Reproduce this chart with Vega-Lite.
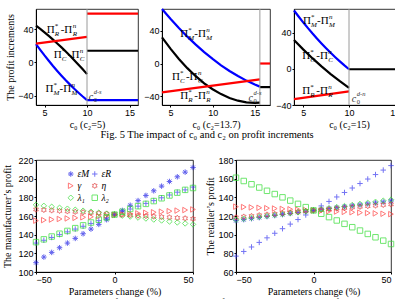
{
"$schema": "https://vega.github.io/schema/vega-lite/v6.json",
"padding": {"left": 2, "top": 4, "right": 0, "bottom": 0},
"spacing": 14,
"resolve": {"scale": {"color": "independent", "shape": "independent"}, "legend": {"color": "independent", "shape": "independent"}},
"config": {
 "font": "Liberation Serif",
 "view": {"stroke": "#000", "strokeWidth": 0.8},
 "axis": {"grid": false, "domainColor": "#000", "tickColor": "#000", "tickSize": 2, "labelFont": "Liberation Sans", "labelFontSize": 9, "labelColor": "#000", "titleFont": "Liberation Serif", "titleFontSize": 10, "titleFontWeight": "normal", "titleColor": "#000", "labelPadding": 1, "titlePadding": 2},
 "title": {"font": "Liberation Serif", "fontSize": 10.5, "fontWeight": "normal", "color": "#000"},
 "text": {"font": "Liberation Serif"}
},
"datasets": {
 "curves": [
  {"p":1,"s":"M","g":"a","x":4,"y":22},{"p":1,"s":"M","g":"a","x":4.5,"y":15.1},{"p":1,"s":"M","g":"a","x":5,"y":8.4},{"p":1,"s":"M","g":"a","x":5.5,"y":2},{"p":1,"s":"M","g":"a","x":6,"y":-4.3},{"p":1,"s":"M","g":"a","x":6.5,"y":-10.2},{"p":1,"s":"M","g":"a","x":7,"y":-15.9},{"p":1,"s":"M","g":"a","x":7.5,"y":-21.4},{"p":1,"s":"M","g":"a","x":8,"y":-26.6},{"p":1,"s":"M","g":"a","x":8.5,"y":-31.6},{"p":1,"s":"M","g":"a","x":9,"y":-36.3},{"p":1,"s":"M","g":"a","x":9.5,"y":-40.8},{"p":1,"s":"M","g":"a","x":10,"y":-45.1},
  {"p":1,"s":"M","g":"b","x":10,"y":-45.1},{"p":1,"s":"M","g":"b","x":16,"y":-45.1},
  {"p":1,"s":"C","g":"a","x":4,"y":44},{"p":1,"s":"C","g":"a","x":4.5,"y":40.1},{"p":1,"s":"C","g":"a","x":5,"y":36},{"p":1,"s":"C","g":"a","x":5.5,"y":31.7},{"p":1,"s":"C","g":"a","x":6,"y":27.3},{"p":1,"s":"C","g":"a","x":6.5,"y":22.7},{"p":1,"s":"C","g":"a","x":7,"y":18},{"p":1,"s":"C","g":"a","x":7.5,"y":13.1},{"p":1,"s":"C","g":"a","x":8,"y":8},{"p":1,"s":"C","g":"a","x":8.5,"y":2.7},{"p":1,"s":"C","g":"a","x":9,"y":-2.7},{"p":1,"s":"C","g":"a","x":9.5,"y":-8.3},{"p":1,"s":"C","g":"a","x":10,"y":-14},
  {"p":1,"s":"C","g":"b","x":10,"y":14},{"p":1,"s":"C","g":"b","x":16,"y":14},
  {"p":1,"s":"R","g":"a","x":4,"y":22.5},{"p":1,"s":"R","g":"a","x":10,"y":30.5},
  {"p":1,"s":"R","g":"b","x":10,"y":58.5},{"p":1,"s":"R","g":"b","x":16,"y":58.5},
  {"p":2,"s":"M","g":"a","x":4,"y":67},{"p":2,"s":"M","g":"a","x":5,"y":55},{"p":2,"s":"M","g":"a","x":6,"y":43.6},{"p":2,"s":"M","g":"a","x":7,"y":33},{"p":2,"s":"M","g":"a","x":8,"y":23.2},{"p":2,"s":"M","g":"a","x":9,"y":14},{"p":2,"s":"M","g":"a","x":10,"y":5.6},{"p":2,"s":"M","g":"a","x":11,"y":-2.2},{"p":2,"s":"M","g":"a","x":12,"y":-9.2},{"p":2,"s":"M","g":"a","x":13,"y":-15.4},{"p":2,"s":"M","g":"a","x":14,"y":-21},{"p":2,"s":"M","g":"a","x":15,"y":-25.8},{"p":2,"s":"M","g":"a","x":15.6,"y":-28.4},
  {"p":2,"s":"C","g":"a","x":4,"y":32.2},{"p":2,"s":"C","g":"a","x":5,"y":18.3},{"p":2,"s":"C","g":"a","x":6,"y":5.6},{"p":2,"s":"C","g":"a","x":7,"y":-5.7},{"p":2,"s":"C","g":"a","x":8,"y":-15.6},{"p":2,"s":"C","g":"a","x":9,"y":-24.3},{"p":2,"s":"C","g":"a","x":10,"y":-31.6},{"p":2,"s":"C","g":"a","x":11,"y":-37.6},{"p":2,"s":"C","g":"a","x":12,"y":-42.3},{"p":2,"s":"C","g":"a","x":13,"y":-45.7},{"p":2,"s":"C","g":"a","x":14,"y":-47.7},{"p":2,"s":"C","g":"a","x":15,"y":-48.4},{"p":2,"s":"C","g":"a","x":15.6,"y":-48.2},
  {"p":2,"s":"C","g":"b","x":15.6,"y":-29},{"p":2,"s":"C","g":"b","x":16.8,"y":-29},
  {"p":2,"s":"R","g":"a","x":4,"y":-35.5},{"p":2,"s":"R","g":"a","x":15.6,"y":-19.5},
  {"p":2,"s":"R","g":"b","x":15.6,"y":0},{"p":2,"s":"R","g":"b","x":16.8,"y":0},
  {"p":3,"s":"M","g":"a","x":4,"y":64.3},{"p":3,"s":"M","g":"a","x":4.5,"y":57.7},{"p":3,"s":"M","g":"a","x":5,"y":51.3},{"p":3,"s":"M","g":"a","x":5.5,"y":45.2},{"p":3,"s":"M","g":"a","x":6,"y":39.2},{"p":3,"s":"M","g":"a","x":6.5,"y":33.5},{"p":3,"s":"M","g":"a","x":7,"y":28},{"p":3,"s":"M","g":"a","x":7.5,"y":22.7},{"p":3,"s":"M","g":"a","x":8,"y":17.6},{"p":3,"s":"M","g":"a","x":8.5,"y":12.8},{"p":3,"s":"M","g":"a","x":9,"y":8.2},{"p":3,"s":"M","g":"a","x":9.5,"y":3.7},{"p":3,"s":"M","g":"a","x":10,"y":-0.5},
  {"p":3,"s":"C","g":"a","x":4,"y":31.7},{"p":3,"s":"C","g":"a","x":5,"y":21.4},{"p":3,"s":"C","g":"a","x":6,"y":11.7},{"p":3,"s":"C","g":"a","x":7,"y":2.7},{"p":3,"s":"C","g":"a","x":8,"y":-5.8},{"p":3,"s":"C","g":"a","x":9,"y":-13.7},{"p":3,"s":"C","g":"a","x":10,"y":-21},
  {"p":3,"s":"C","g":"b","x":10,"y":-0.5},{"p":3,"s":"C","g":"b","x":16,"y":-0.5},
  {"p":3,"s":"R","g":"a","x":4,"y":-33.5},{"p":3,"s":"R","g":"a","x":10,"y":-25}
 ],
 "vl": [{"p":1,"x":10},{"p":2,"x":15.6},{"p":3,"x":10}],
 "labs": [
  {"p":1,"x":5.25,"y":38.8,"s":"R"},{"p":1,"x":6.1,"y":8.9,"s":"C"},{"p":1,"x":5.13,"y":-32.2,"s":"M"},
  {"p":2,"x":6.17,"y":36.2,"s":"M"},{"p":2,"x":5.18,"y":-16.6,"s":"C"},{"p":2,"x":6.17,"y":-39.7,"s":"R"},
  {"p":3,"x":4.98,"y":52.9,"s":"M"},{"p":3,"x":4.9,"y":13.9,"s":"C"},{"p":3,"x":4.9,"y":-25,"s":"R"}
 ],
 "cl": [{"p":1,"x":10.2,"y":-42,"t":"d-s"},{"p":2,"x":14.25,"y":-42.8,"t":"d-s"},{"p":3,"x":10.3,"y":-33.4,"t":"d-n"}],
 "mf": [
  {"x":-50,"eM":110,"eR":131,"g":155,"h":167,"l1":172,"l2":132},
  {"x":-45,"eM":116,"eR":134,"g":155.6,"h":166.5,"l1":170.9,"l2":135},
  {"x":-40,"eM":121,"eR":137,"g":156.2,"h":166,"l1":169.9,"l2":138},
  {"x":-35,"eM":126,"eR":140,"g":156.8,"h":165.5,"l1":168.8,"l2":141},
  {"x":-30,"eM":131,"eR":143,"g":157.4,"h":165,"l1":167.8,"l2":144},
  {"x":-25,"eM":136,"eR":146,"g":158,"h":164.5,"l1":166.7,"l2":147},
  {"x":-20,"eM":141,"eR":149,"g":158.6,"h":164,"l1":165.7,"l2":150},
  {"x":-15,"eM":146,"eR":152,"g":159.2,"h":163.5,"l1":164.6,"l2":153},
  {"x":-10,"eM":151,"eR":155,"g":159.8,"h":163,"l1":163.6,"l2":156},
  {"x":-5,"eM":156,"eR":158,"g":160.4,"h":162.5,"l1":162.5,"l2":158.5},
  {"x":0,"eM":161.5,"eR":161.5,"g":161,"h":162,"l1":161.5,"l2":161.5},
  {"x":5,"eM":166,"eR":164.5,"g":161.6,"h":161.5,"l1":160.4,"l2":164.5},
  {"x":10,"eM":171.5,"eR":167.5,"g":162.2,"h":161,"l1":159.4,"l2":167.5},
  {"x":15,"eM":176.5,"eR":170.5,"g":162.8,"h":160.5,"l1":158.3,"l2":170.5},
  {"x":20,"eM":182,"eR":173.5,"g":163.4,"h":160,"l1":157.3,"l2":173},
  {"x":25,"eM":187,"eR":176.5,"g":164,"h":159.5,"l1":156.2,"l2":176},
  {"x":30,"eM":192,"eR":179.5,"g":164.6,"h":159,"l1":155.2,"l2":179},
  {"x":35,"eM":197,"eR":182.5,"g":165.2,"h":158.5,"l1":154.1,"l2":182},
  {"x":40,"eM":202,"eR":185.5,"g":165.8,"h":158,"l1":153.1,"l2":185},
  {"x":45,"eM":207,"eR":188,"g":166.4,"h":157.5,"l1":152,"l2":188},
  {"x":50,"eM":212,"eR":191,"g":167,"h":157,"l1":151,"l2":190}
 ],
 "rt": [
  {"x":-50,"eM":115,"eR":77,"g":130,"h":118.5,"l1":116,"l2":161},
  {"x":-45,"eM":116.1,"eR":82,"g":129.6,"h":119.3,"l1":117,"l2":157.5},
  {"x":-40,"eM":117.2,"eR":86.8,"g":129.2,"h":120,"l1":118,"l2":154},
  {"x":-35,"eM":118.3,"eR":91.7,"g":128.8,"h":120.8,"l1":119,"l2":150.5},
  {"x":-30,"eM":119.4,"eR":96.6,"g":128.4,"h":121.5,"l1":120,"l2":147},
  {"x":-25,"eM":120.5,"eR":101.5,"g":128,"h":122.3,"l1":121,"l2":143.5},
  {"x":-20,"eM":121.6,"eR":106.4,"g":127.6,"h":123,"l1":122,"l2":140},
  {"x":-15,"eM":122.7,"eR":111.3,"g":127.2,"h":123.8,"l1":123,"l2":136.5},
  {"x":-10,"eM":123.8,"eR":116.2,"g":126.8,"h":124.5,"l1":124,"l2":133},
  {"x":-5,"eM":124.9,"eR":121.1,"g":126.4,"h":125.3,"l1":125,"l2":129.5},
  {"x":0,"eM":126,"eR":126,"g":126,"h":126,"l1":126,"l2":126},
  {"x":5,"eM":127,"eR":130.8,"g":125.6,"h":126.7,"l1":127.2,"l2":122.4},
  {"x":10,"eM":128,"eR":135.6,"g":125.2,"h":127.3,"l1":128.3,"l2":118.8},
  {"x":15,"eM":129,"eR":140.4,"g":124.8,"h":128,"l1":129.5,"l2":115.2},
  {"x":20,"eM":130,"eR":145.2,"g":124.4,"h":128.6,"l1":130.6,"l2":111.6},
  {"x":25,"eM":131,"eR":150,"g":124,"h":129.3,"l1":131.8,"l2":108},
  {"x":30,"eM":132,"eR":154.8,"g":123.6,"h":129.9,"l1":132.9,"l2":104.4},
  {"x":35,"eM":133,"eR":159.6,"g":123.2,"h":130.6,"l1":134.1,"l2":100.8},
  {"x":40,"eM":134,"eR":164.4,"g":122.8,"h":131.2,"l1":135.2,"l2":97.2},
  {"x":45,"eM":135,"eR":169.2,"g":122.4,"h":131.9,"l1":136.4,"l2":93.6},
  {"x":50,"eM":136,"eR":174,"g":122,"h":132.5,"l1":137.5,"l2":90}
 ]
},
"vconcat": [
 {
  "spacing": 0,
  "title": {"text": "Fig. 5 The impact of c₀ and c₂ on profit increments", "orient": "bottom", "anchor": "middle", "offset": 1},
  "hconcat": [
   {
    "width": 102, "height": 96,
    "layer": [
     {"data": {"name": "curves"}, "transform": [{"filter": "datum.p==1"}],
      "mark": {"type": "line", "strokeWidth": 2.2},
      "encoding": {
       "x": {"field": "x", "type": "quantitative", "scale": {"domain": [4, 16], "nice": false, "zero": false}, "axis": {"values": [5, 10, 15], "title": "c₀  (c₂=5)"}},
       "y": {"field": "y", "type": "quantitative", "scale": {"domain": [-51, 64], "nice": false, "zero": false}, "axis": {"values": [-40, -20, 0, 20, 40, 60], "title": "The profit increments"}},
       "color": {"field": "s", "type": "nominal", "scale": {"domain": ["M", "C", "R"], "range": ["#0000ff", "#000000", "#ff0000"]}, "legend": null},
       "detail": {"field": "g", "type": "nominal"}
      }},
     {"data": {"name": "vl"}, "transform": [{"filter": "datum.p==1"}], "mark": {"type": "rule", "color": "#9a9a9a", "strokeWidth": 1}, "encoding": {"x": {"field": "x", "type": "quantitative"}}},
     {"data": {"name": "labs"}, "transform": [{"filter": "datum.p==1"}],
      "encoding": {"x": {"field": "x", "type": "quantitative"}, "y": {"field": "y", "type": "quantitative"}},
      "layer": [
       {"mark": {"type": "text", "text": "Π", "align": "left", "baseline": "middle", "fontSize": 11}},
       {"mark": {"type": "text", "text": "*", "align": "left", "baseline": "middle", "fontSize": 7, "dx": 8, "dy": -4}},
       {"mark": {"type": "text", "align": "left", "baseline": "middle", "fontSize": 7, "fontStyle": "italic", "dx": 8, "dy": 4}, "encoding": {"text": {"field": "s"}}},
       {"mark": {"type": "text", "text": "-Π", "align": "left", "baseline": "middle", "fontSize": 11, "dx": 14}},
       {"mark": {"type": "text", "text": "n", "align": "left", "baseline": "middle", "fontSize": 7, "fontStyle": "italic", "dx": 26, "dy": -4}},
       {"mark": {"type": "text", "align": "left", "baseline": "middle", "fontSize": 7, "fontStyle": "italic", "dx": 26, "dy": 4}, "encoding": {"text": {"field": "s"}}}
      ]},
     {"data": {"name": "cl"}, "transform": [{"filter": "datum.p==1"}],
      "encoding": {"x": {"field": "x", "type": "quantitative"}, "y": {"field": "y", "type": "quantitative"}},
      "layer": [
       {"mark": {"type": "text", "text": "c", "align": "left", "baseline": "middle", "fontSize": 10, "fontStyle": "italic", "color": "#333"}},
       {"mark": {"type": "text", "text": "0", "align": "left", "baseline": "middle", "fontSize": 6.5, "dx": 5, "dy": 3, "color": "#333"}},
       {"mark": {"type": "text", "align": "left", "baseline": "middle", "fontSize": 6.5, "fontStyle": "italic", "dx": 5, "dy": -5, "color": "#333"}, "encoding": {"text": {"field": "t"}}}
      ]}
    ]
   },
   {
    "width": 108, "height": 96,
    "layer": [
     {"data": {"name": "curves"}, "transform": [{"filter": "datum.p==2"}],
      "mark": {"type": "line", "strokeWidth": 2.2},
      "encoding": {
       "x": {"field": "x", "type": "quantitative", "scale": {"domain": [4, 16.8], "nice": false, "zero": false}, "axis": {"values": [5, 10, 15], "title": "c₀  (c₂=13.7)"}},
       "y": {"field": "y", "type": "quantitative", "scale": {"domain": [-51, 67], "nice": false, "zero": false}, "axis": {"values": [-40, -20, 0, 20, 40, 60], "title": null}},
       "color": {"field": "s", "type": "nominal", "scale": {"domain": ["M", "C", "R"], "range": ["#0000ff", "#000000", "#ff0000"]}, "legend": null},
       "detail": {"field": "g", "type": "nominal"}
      }},
     {"data": {"name": "vl"}, "transform": [{"filter": "datum.p==2"}], "mark": {"type": "rule", "color": "#9a9a9a", "strokeWidth": 1}, "encoding": {"x": {"field": "x", "type": "quantitative"}}},
     {"data": {"name": "labs"}, "transform": [{"filter": "datum.p==2"}],
      "encoding": {"x": {"field": "x", "type": "quantitative"}, "y": {"field": "y", "type": "quantitative"}},
      "layer": [
       {"mark": {"type": "text", "text": "Π", "align": "left", "baseline": "middle", "fontSize": 11}},
       {"mark": {"type": "text", "text": "*", "align": "left", "baseline": "middle", "fontSize": 7, "dx": 8, "dy": -4}},
       {"mark": {"type": "text", "align": "left", "baseline": "middle", "fontSize": 7, "fontStyle": "italic", "dx": 8, "dy": 4}, "encoding": {"text": {"field": "s"}}},
       {"mark": {"type": "text", "text": "-Π", "align": "left", "baseline": "middle", "fontSize": 11, "dx": 14}},
       {"mark": {"type": "text", "text": "n", "align": "left", "baseline": "middle", "fontSize": 7, "fontStyle": "italic", "dx": 26, "dy": -4}},
       {"mark": {"type": "text", "align": "left", "baseline": "middle", "fontSize": 7, "fontStyle": "italic", "dx": 26, "dy": 4}, "encoding": {"text": {"field": "s"}}}
      ]},
     {"data": {"name": "cl"}, "transform": [{"filter": "datum.p==2"}],
      "encoding": {"x": {"field": "x", "type": "quantitative"}, "y": {"field": "y", "type": "quantitative"}},
      "layer": [
       {"mark": {"type": "text", "text": "c", "align": "left", "baseline": "middle", "fontSize": 10, "fontStyle": "italic", "color": "#333"}},
       {"mark": {"type": "text", "text": "0", "align": "left", "baseline": "middle", "fontSize": 6.5, "dx": 5, "dy": 3, "color": "#333"}},
       {"mark": {"type": "text", "align": "left", "baseline": "middle", "fontSize": 6.5, "fontStyle": "italic", "dx": 5, "dy": -5, "color": "#333"}, "encoding": {"text": {"field": "t"}}}
      ]}
    ]
   },
   {
    "width": 110, "height": 96,
    "layer": [
     {"data": {"name": "curves"}, "transform": [{"filter": "datum.p==3"}],
      "mark": {"type": "line", "strokeWidth": 2.2},
      "encoding": {
       "x": {"field": "x", "type": "quantitative", "scale": {"domain": [4, 16], "nice": false, "zero": false}, "axis": {"values": [5, 10, 15], "title": "c₀  (c₂=15)"}},
       "y": {"field": "y", "type": "quantitative", "scale": {"domain": [-40, 66], "nice": false, "zero": false}, "axis": {"values": [-40, -20, 0, 20, 40, 60], "title": null}},
       "color": {"field": "s", "type": "nominal", "scale": {"domain": ["M", "C", "R"], "range": ["#0000ff", "#000000", "#ff0000"]}, "legend": null},
       "detail": {"field": "g", "type": "nominal"}
      }},
     {"data": {"name": "vl"}, "transform": [{"filter": "datum.p==3"}], "mark": {"type": "rule", "color": "#9a9a9a", "strokeWidth": 1}, "encoding": {"x": {"field": "x", "type": "quantitative"}}},
     {"data": {"name": "labs"}, "transform": [{"filter": "datum.p==3"}],
      "encoding": {"x": {"field": "x", "type": "quantitative"}, "y": {"field": "y", "type": "quantitative"}},
      "layer": [
       {"mark": {"type": "text", "text": "Π", "align": "left", "baseline": "middle", "fontSize": 11}},
       {"mark": {"type": "text", "text": "*", "align": "left", "baseline": "middle", "fontSize": 7, "dx": 8, "dy": -4}},
       {"mark": {"type": "text", "align": "left", "baseline": "middle", "fontSize": 7, "fontStyle": "italic", "dx": 8, "dy": 4}, "encoding": {"text": {"field": "s"}}},
       {"mark": {"type": "text", "text": "-Π", "align": "left", "baseline": "middle", "fontSize": 11, "dx": 14}},
       {"mark": {"type": "text", "text": "n", "align": "left", "baseline": "middle", "fontSize": 7, "fontStyle": "italic", "dx": 26, "dy": -4}},
       {"mark": {"type": "text", "align": "left", "baseline": "middle", "fontSize": 7, "fontStyle": "italic", "dx": 26, "dy": 4}, "encoding": {"text": {"field": "s"}}}
      ]},
     {"data": {"name": "cl"}, "transform": [{"filter": "datum.p==3"}],
      "encoding": {"x": {"field": "x", "type": "quantitative"}, "y": {"field": "y", "type": "quantitative"}},
      "layer": [
       {"mark": {"type": "text", "text": "c", "align": "left", "baseline": "middle", "fontSize": 10, "fontStyle": "italic", "color": "#333"}},
       {"mark": {"type": "text", "text": "0", "align": "left", "baseline": "middle", "fontSize": 6.5, "dx": 5, "dy": 3, "color": "#333"}},
       {"mark": {"type": "text", "align": "left", "baseline": "middle", "fontSize": 6.5, "fontStyle": "italic", "dx": 5, "dy": -5, "color": "#333"}, "encoding": {"text": {"field": "t"}}}
      ]}
    ]
   }
  ]
 },
 {
  "spacing": 6,
  "resolve": {"scale": {"color": "independent", "shape": "independent"}, "legend": {"color": "independent", "shape": "independent"}},
  "title": {"text": "Fig. 6 Impact of parameters on the manufacturer’s and retailer’s profits", "orient": "bottom", "anchor": "middle", "offset": 2},
  "hconcat": [
   {
    "width": 157, "height": 112,
    "data": {"name": "mf"},
    "transform": [{"fold": ["eM", "eR", "g", "h", "l1", "l2"], "as": ["s", "v"]}],
    "mark": {"type": "point", "filled": false, "strokeWidth": 1, "size": 30, "clip": false},
    "encoding": {
     "x": {"field": "x", "type": "quantitative", "scale": {"domain": [-50, 50], "nice": false}, "axis": {"values": [-50, 0, 50], "title": "Parameters change (%)"}},
     "y": {"field": "v", "type": "quantitative", "scale": {"domain": [100, 220], "nice": false, "zero": false}, "axis": {"values": [100, 120, 140, 160, 180, 200, 220], "title": "The manufacturer’s profit", "titlePadding": 5}},
     "color": {"field": "s", "type": "nominal", "scale": {"domain": ["eM", "g", "l1", "eR", "h", "l2"], "range": ["#1f1fe6", "#ff4040", "#33dd33", "#3a3af0", "#e03c3c", "#33dd33"]},
      "legend": {"orient": "none", "legendX": 30, "legendY": 9, "columns": 2, "title": null, "labelFont": "Liberation Serif", "labelFontStyle": "italic", "labelFontSize": 9.5, "symbolSize": 30, "rowPadding": 1, "columnPadding": 0, "labelOffset": 2, "symbolStrokeWidth": 1, "labelExpr": "{'eM':'εM','eR':'εR','g':'γ','h':'η','l1':'λ₁','l2':'λ₂'}[datum.label]"}},
     "shape": {"field": "s", "type": "nominal", "scale": {"domain": ["eM", "g", "l1", "eR", "h", "l2"], "range": ["M-1,0L1,0M0,-1L0,1M-0.7,-0.7L0.7,0.7M-0.7,0.7L0.7,-0.7", "triangle-right", "diamond", "M-1,0L1,0M0,-1L0,1", "M0,-1L0.289,-0.5L0.866,-0.5L0.577,0L0.866,0.5L0.289,0.5L0,1L-0.289,0.5L-0.866,0.5L-0.577,0L-0.866,-0.5L-0.289,-0.5Z", "square"]},
      "legend": {"orient": "none", "legendX": 30, "legendY": 9, "columns": 2, "title": null, "labelFont": "Liberation Serif", "labelFontStyle": "italic", "labelFontSize": 9.5, "symbolSize": 30, "rowPadding": 1, "columnPadding": 0, "labelOffset": 2, "symbolStrokeWidth": 1, "labelExpr": "{'eM':'εM','eR':'εR','g':'γ','h':'η','l1':'λ₁','l2':'λ₂'}[datum.label]"}}
    }
   },
   {
    "width": 155, "height": 112,
    "data": {"name": "rt"},
    "transform": [{"fold": ["eM", "eR", "g", "h", "l1", "l2"], "as": ["s", "v"]}],
    "mark": {"type": "point", "filled": false, "strokeWidth": 1, "size": 30, "clip": false},
    "encoding": {
     "x": {"field": "x", "type": "quantitative", "scale": {"domain": [-50, 50], "nice": false}, "axis": {"values": [-50, 0, 50], "title": "Parameters change (%)"}},
     "y": {"field": "v", "type": "quantitative", "scale": {"domain": [60, 180], "nice": false, "zero": false}, "axis": {"values": [60, 80, 100, 120, 140, 160, 180], "title": "The retailer’s profit"}},
     "color": {"field": "s", "type": "nominal", "scale": {"domain": ["eM", "g", "l1", "eR", "h", "l2"], "range": ["#1f1fe6", "#ff4040", "#33dd33", "#3a3af0", "#e03c3c", "#33dd33"]}, "legend": null},
     "shape": {"field": "s", "type": "nominal", "scale": {"domain": ["eM", "g", "l1", "eR", "h", "l2"], "range": ["M-1,0L1,0M0,-1L0,1M-0.7,-0.7L0.7,0.7M-0.7,0.7L0.7,-0.7", "triangle-right", "diamond", "M-1,0L1,0M0,-1L0,1", "M0,-1L0.289,-0.5L0.866,-0.5L0.577,0L0.866,0.5L0.289,0.5L0,1L-0.289,0.5L-0.866,0.5L-0.577,0L-0.866,-0.5L-0.289,-0.5Z", "square"]}, "legend": null}
    }
   }
  ]
 }
]
}
